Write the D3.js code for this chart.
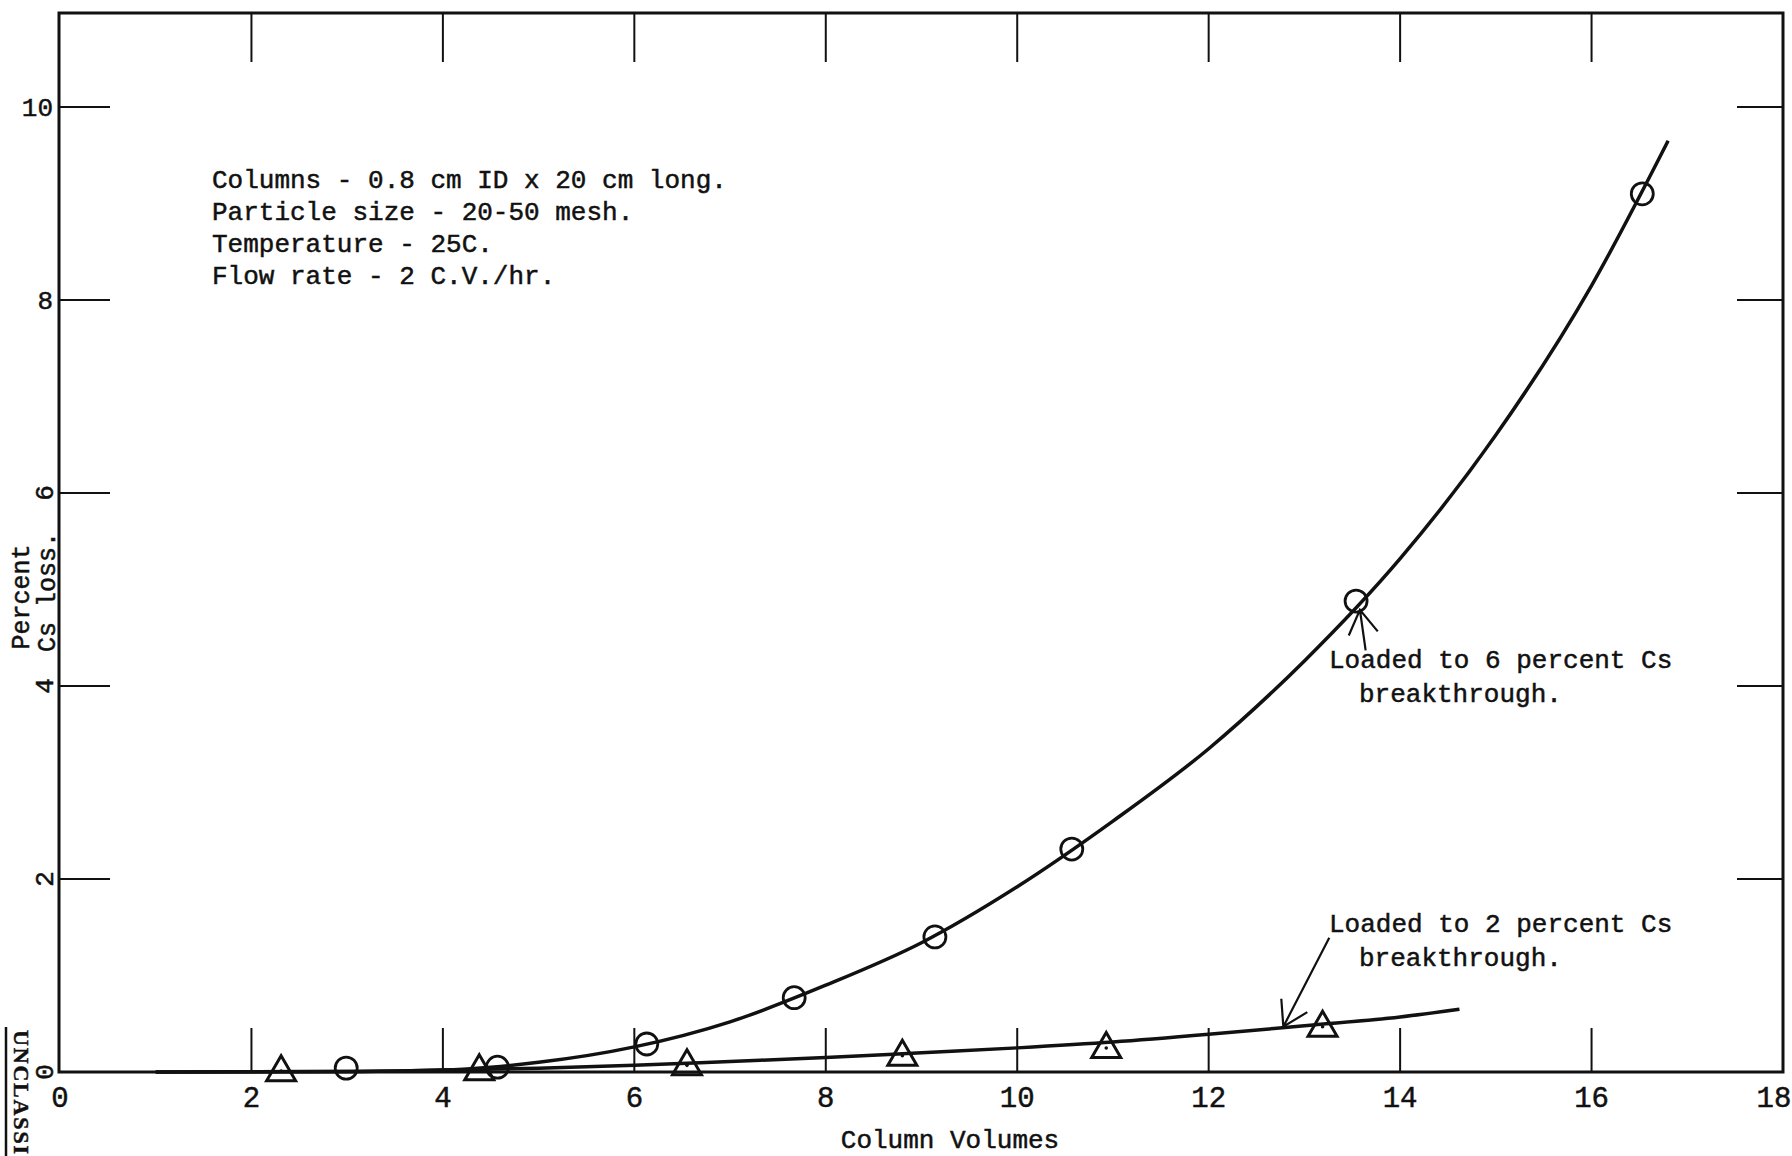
<!DOCTYPE html>
<html>
<head>
<meta charset="utf-8">
<script src="https://cdn.jsdelivr.net/npm/d3@7"></script>
<style>
  body { margin: 0; background: #fff; }
  text { font-family: "Liberation Mono", "Courier New", monospace; fill: #111; stroke: #111; stroke-width: 0.5px; }
</style>
</head>
<body>
<svg id="chart" width="1792" height="1156"></svg>
<script>
// tick values
var xTicks = [0, 2, 4, 6, 8, 10, 12, 14, 16, 18];
var yTicks = [0, 2, 4, 6, 8, 10];
var yTickLabels = ["0", "2", "4", "6", "8", "10"];

// loaded to 6 percent Cs breakthrough (circles)
var sixX = [2.99, 4.57, 6.13, 7.67, 9.14, 10.57, 13.54, 16.53];
var sixY = [0.04, 0.05, 0.29, 0.77, 1.40, 2.31, 4.88, 9.10];
// loaded to 2 percent Cs breakthrough (triangles)
var twoX = [2.31, 4.38, 6.55, 8.80, 10.93, 13.19];
var twoY = [0.04, 0.05, 0.10, 0.20, 0.28, 0.50];

// hand drawn fitted curves
var sixCurveX = [1, 3, 4, 4.5, 5, 6, 7, 8, 9, 10, 11, 12, 13, 14, 15, 16, 16.8];
var sixCurveY = [0, 0.005, 0.02, 0.05, 0.1, 0.26, 0.52, 0.9, 1.34, 1.92, 2.6, 3.35, 4.26, 5.32, 6.6, 8.15, 9.65];
var twoCurveX = [1, 3, 4, 5, 6, 7, 8, 9, 10, 11, 12, 13, 14, 14.62];
var twoCurveY = [0, 0.005, 0.02, 0.04, 0.07, 0.11, 0.15, 0.2, 0.25, 0.31, 0.39, 0.48, 0.57, 0.65];

var notes = ["Columns - 0.8 cm ID x 20 cm long.",
             "Particle size - 20-50 mesh.",
             "Temperature - 25C.",
             "Flow rate - 2 C.V./hr."];

var svg = d3.select("#chart"),
    frameL = 59, frameR = 1783, frameT = 13, frameB = 1072;

var x = d3.scaleLinear().domain([0, 18]).range([60, 1783]),
    y = d3.scaleLinear().domain([0, 10]).range([1072, 107]);

var g = svg.append("g").attr("stroke", "#111").attr("fill", "none");

// frame
g.append("path")
    .attr("stroke-width", 3)
    .attr("d", "M" + frameL + "," + frameT + "H" + frameR + "V" + frameB + "H" + frameL + "Z");

var inner = xTicks.filter(function(d) { return d > 0 && d < 18; });
// top and bottom ticks
g.selectAll(".ttick").data(inner).enter().append("line")
    .attr("stroke-width", 2)
    .attr("x1", function(d) { return x(d); }).attr("x2", function(d) { return x(d); })
    .attr("y1", frameT).attr("y2", frameT + 49);
g.selectAll(".btick").data(inner).enter().append("line")
    .attr("stroke-width", 2)
    .attr("x1", function(d) { return x(d); }).attr("x2", function(d) { return x(d); })
    .attr("y1", frameB).attr("y2", frameB - 44);

// left and right ticks
var yin = yTicks.filter(function(d) { return d > 0; });
g.selectAll(".ltick").data(yin).enter().append("line")
    .attr("stroke-width", 2)
    .attr("x1", frameL).attr("x2", frameL + 51)
    .attr("y1", function(d) { return y(d); }).attr("y2", function(d) { return y(d); });
g.selectAll(".rtick").data(yin).enter().append("line")
    .attr("stroke-width", 2)
    .attr("x1", frameR - 46).attr("x2", frameR)
    .attr("y1", function(d) { return y(d); }).attr("y2", function(d) { return y(d); });

// x tick labels
svg.selectAll(".xl").data(xTicks).enter().append("text")
    .attr("x", function(d) { return Math.min(x(d), 1774); })
    .attr("y", 1097)
    .attr("dy", "0.35em")
    .attr("text-anchor", "middle")
    .style("font-size", "29px")
    .text(function(d) { return d; });

// y tick labels: 8 and 10 typed upright, the rest sideways
svg.selectAll(".yl").data(yTicks).enter().append("text")
    .attr("text-anchor", function(d) { return d >= 8 ? "end" : "middle"; })
    .attr("dy", "0.35em")
    .attr("transform", function(d) {
      return d >= 8 ? "translate(53," + y(d) + ")" : "translate(44," + y(d) + ") rotate(-90)";
    })
    .style("font-size", "26px")
    .text(function(d, i) { return yTickLabels[i]; });

// axis titles
svg.append("text")
    .attr("transform", "translate(20,597) rotate(-90)")
    .attr("text-anchor", "middle").attr("dy", "0.35em")
    .style("font-size", "25px")
    .text("Percent");
svg.append("text")
    .attr("transform", "translate(46,592) rotate(-90)")
    .attr("text-anchor", "middle").attr("dy", "0.35em")
    .style("font-size", "25px")
    .text("Cs loss.");
svg.append("text")
    .attr("x", 950).attr("y", 1139).attr("dy", "0.35em")
    .attr("text-anchor", "middle")
    .style("font-size", "26px")
    .text("Column Volumes");

// curves
var line = d3.line()
    .curve(d3.curveMonotoneX)
    .x(function(d) { return x(d[0]); })
    .y(function(d) { return y(d[1]); });

g.append("path").attr("stroke-width", 3.5)
    .attr("d", line(d3.zip(sixCurveX, sixCurveY)));
g.append("path").attr("stroke-width", 3.5)
    .attr("d", line(d3.zip(twoCurveX, twoCurveY)));

// circles
g.selectAll(".pt6").data(d3.zip(sixX, sixY)).enter().append("circle")
    .attr("stroke-width", 2.8)
    .attr("cx", function(d) { return x(d[0]); })
    .attr("cy", function(d) { return y(d[1]); })
    .attr("r", 11);

// triangles with a dot
var tri = d3.line()([[0, -12.5], [14.5, 12.5], [-14.5, 12.5]]) + "Z";
var tg = g.selectAll(".pt2").data(d3.zip(twoX, twoY)).enter().append("g")
    .attr("transform", function(d) { return "translate(" + x(d[0]) + "," + y(d[1]) + ")"; });
tg.append("path").attr("stroke-width", 3).attr("stroke-linejoin", "miter").attr("d", tri);
tg.append("circle").attr("cy", 3).attr("r", 1.8).attr("fill", "#111").attr("stroke", "none");

// annotation arrows
function arrow(tip, tail, len) {
  var x0 = x(tip[0]), y0 = y(tip[1]), x1 = x(tail[0]), y1 = y(tail[1]);
  var a = Math.atan2(y1 - y0, x1 - x0), s = 0.55;
  g.append("path").attr("stroke-width", 2.2)
    .attr("d", "M" + x1 + "," + y1 + "L" + x0 + "," + y0 +
      "M" + (x0 + len * Math.cos(a - s)) + "," + (y0 + len * Math.sin(a - s)) +
      "L" + x0 + "," + y0 +
      "L" + (x0 + len * Math.cos(a + s)) + "," + (y0 + len * Math.sin(a + s)));
}
arrow([13.58, 4.79], [13.64, 4.37], 28);
arrow([12.78, 0.47], [13.26, 1.39], 28);

function label(lines, px, py) {
  lines.forEach(function(t, i) {
    svg.append("text")
      .attr("x", px + (i ? 30 : 0)).attr("y", py + i * 34).attr("dy", "0.35em")
      .style("font-size", "26px")
      .text(t);
  });
}
label(["Loaded to 6 percent Cs", "breakthrough."], 1329, 659);
label(["Loaded to 2 percent Cs", "breakthrough."], 1329, 923);

notes.forEach(function(t, i) {
  svg.append("text")
    .attr("x", 212).attr("y", 179 + i * 32).attr("dy", "0.35em")
    .style("font-size", "26px")
    .text(t);
});

// classification stamp in the corner
svg.append("line")
    .attr("x1", 6).attr("x2", 6).attr("y1", 1027).attr("y2", 1156)
    .attr("stroke", "#111").attr("stroke-width", 2.5);
svg.append("text")
    .attr("transform", "translate(14,1030) rotate(90)")
    .style("font-family", "Liberation Serif, serif")
    .style("font-weight", "bold")
    .style("font-size", "22px")
    .attr("textLength", 124)
    .text("UNCLASSI");
</script>
</body>
</html>
